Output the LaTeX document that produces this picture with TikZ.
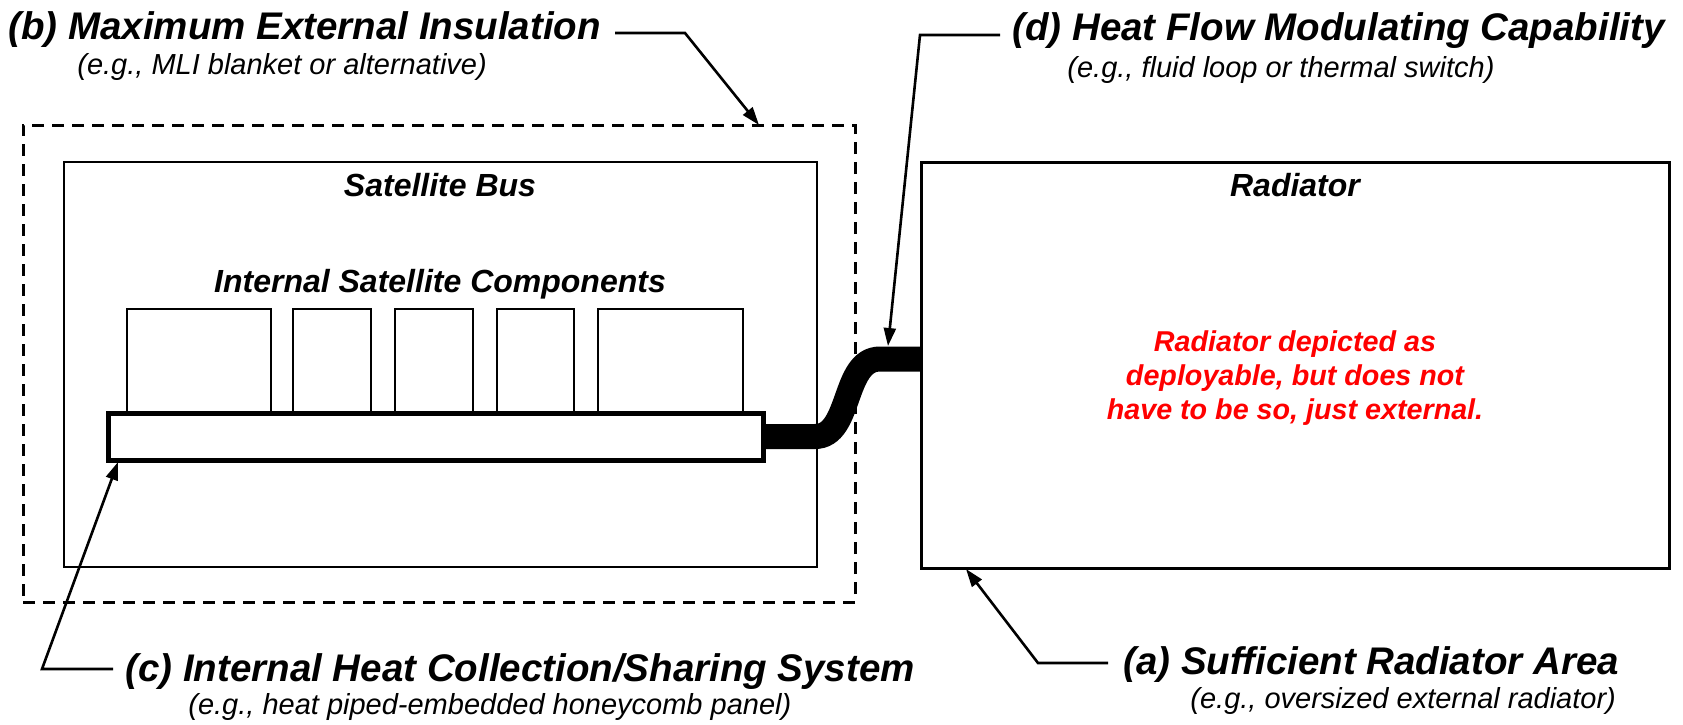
\documentclass[tikz,border=0pt]{standalone}
\usepackage{fontspec}
\setmainfont{Liberation Sans}
\usetikzlibrary{arrows.meta}
\begin{document}
\begin{tikzpicture}[x=0.5pt,y=-0.5pt,
  title/.style={font=\fontsize{19.25}{23}\selectfont\bfseries\itshape, inner sep=0pt, anchor=base west},
  sub/.style={font=\fontsize{14.5}{17}\selectfont\itshape, inner sep=0pt, anchor=base west},
  boxlabel/.style={font=\fontsize{16}{19}\selectfont\bfseries\itshape, inner sep=0pt},
  leader/.style={line width=1.3pt, -{Triangle[length=9pt,width=6pt]}},
  pxbox/.style={draw, fill=white, inner sep=0pt, outer sep=0pt, anchor=north west},
  insbox/.style={pxbox, fill=none, line width=1.5pt, dash pattern=on 6pt off 4pt},
  compbox/.style={pxbox, line width=1pt, minimum height=52pt},
  pipe/.style={line width=12.5pt}
]
\useasboundingbox (0,0) rectangle (1683,724);

% boxes
\node[insbox, minimum width=416pt, minimum height=238.5pt] (ins) at (23,125) {};
\node[pxbox, line width=1.25pt, minimum width=376.5pt, minimum height=202.5pt] (bus) at (64,162) {};
\node[pxbox, line width=1.5pt, minimum width=374pt, minimum height=203pt] (rad) at (921,162) {};

% components
\node[compbox, minimum width=72pt] (c1) at (127,309) {};
\node[compbox, minimum width=39pt] (c2) at (293,309) {};
\node[compbox, minimum width=39pt] (c3) at (395,309) {};
\node[compbox, minimum width=38.5pt] (c4) at (497,309) {};
\node[compbox, minimum width=72.5pt] (c5) at (598,309) {};

% panel
\node[pxbox, line width=2.5pt, minimum width=327.5pt, minimum height=23.5pt] (panel) at (108,413) {};

% pipe
\coordinate (pipeend) at (921,359);
\draw[pipe] (panel.east) -- (815,436.5) .. controls (852,436.5) and (842,359) .. (880,359) -- (pipeend);

% box labels
\node[boxlabel] (buslabel) at (440,185) {Satellite Bus};
\node[boxlabel] (complabel) at (440,284) {Internal Satellite Components};
\node[boxlabel] (radlabel) at (1295,185) {Radiator};
\node[font=\fontsize{14.35}{17}\selectfont\bfseries\itshape, text=red, align=center, inner sep=0pt] (note) at (1295,378)
  {Radiator depicted as\\deployable, but does not\\have to be so, just external.};

% annotations
\node[title] (btitle) at (8,39) {(b) Maximum External Insulation};
\node[sub] (bsub) at (77,74) {(e.g., MLI blanket or alternative)};
\node[title] (dtitle) at (1012,40) {(d) Heat Flow Modulating Capability};
\node[sub] (dsub) at (1067,77) {(e.g., fluid loop or thermal switch)};
\node[title] (ctitle) at (125,681) {(c) Internal Heat Collection/Sharing System};
\node[sub] (csub) at (188,714) {(e.g., heat piped-embedded honeycomb panel)};
\node[title] (atitle) at (1123,674) {(a) Sufficient Radiator Area};
\node[sub] (asub) at (1190,708) {(e.g., oversized external radiator)};

% leader coordinates
\coordinate (bstart) at (615,33);
\coordinate (bbend) at (685,33);
\coordinate (btip) at (759,125);
\coordinate (dstart) at (1000,35);
\coordinate (dbend) at (920,35);
\coordinate (dtip) at (888,346);
\coordinate (cstart) at (113,669);
\coordinate (cbend) at (42,669);
\coordinate (ctip) at (118,462);
\coordinate (astart) at (1108,663);
\coordinate (abend) at (1038,663);
\coordinate (atip) at (966,569);

\draw[leader] (bstart) -- (bbend) -- (btip);
\draw[leader] (dstart) -- (dbend) -- (dtip);
\draw[leader] (cstart) -- (cbend) -- (ctip);
\draw[leader] (astart) -- (abend) -- (atip);
\end{tikzpicture}
\end{document}
